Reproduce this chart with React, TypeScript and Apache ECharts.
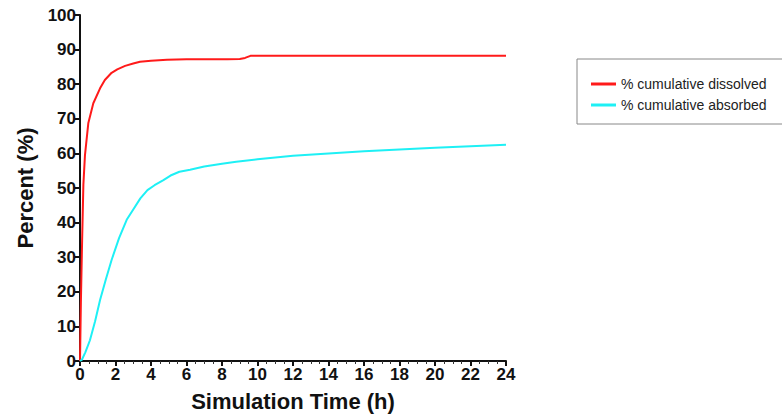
import React, { useEffect, useRef } from "react";
import * as echarts from "echarts";

const dissolvedTime = [0, 0.05, 0.12, 0.19, 0.28, 0.47, 0.75, 1.13, 1.4, 1.78, 2.1, 2.54, 3.0, 3.38, 4.0, 4.9, 6.0, 7.0, 8.3, 9.0, 9.3, 9.6, 12, 16, 20, 24];
const dissolvedPct = [0, 17, 35, 50.9, 59.5, 68.8, 74.5, 78.8, 81.2, 83.3, 84.3, 85.3, 86.0, 86.5, 86.8, 87.1, 87.2, 87.2, 87.2, 87.3, 87.6, 88.2, 88.2, 88.2, 88.2, 88.2];

const absorbedTime = [0, 0.1, 0.3, 0.56, 0.85, 1.13, 1.45, 1.78, 2.2, 2.63, 3.0, 3.4, 3.8, 4.2, 4.7, 5.1, 5.6, 6.2, 7.0, 8.0, 8.8, 10, 11, 12, 14, 16, 18, 20, 22, 24];
const absorbedPct = [0, 0.3, 2.5, 6, 11.5, 17.6, 23.5, 29.2, 35.5, 40.8, 43.8, 47, 49.4, 50.8, 52.3, 53.6, 54.7, 55.3, 56.2, 57.0, 57.6, 58.3, 58.8, 59.3, 60.0, 60.6, 61.1, 61.6, 62.1, 62.5];

const seriesNames = ["% cumulative dissolved", "% cumulative absorbed"];
const xTitle = "Simulation Time (h)";
const yTitle = "Percent (%)";

const FONT = "'Liberation Sans', Arial, sans-serif";

export default function App() {
  const ref = useRef<HTMLDivElement>(null);
  useEffect(() => {
    if (!ref.current) return;
    const chart = echarts.init(ref.current, null, { renderer: "svg" });
    const axisText = { color: "#111", fontWeight: "bold" as const, fontSize: 17, fontFamily: FONT };
    const nameText = { color: "#111", fontWeight: "bold" as const, fontSize: 22, fontFamily: FONT };
    chart.setOption({
      animation: false,
      backgroundColor: "#fff",
      grid: { left: 80, right: 276, top: 15, bottom: 54, containLabel: false, outerBoundsMode: "none" },
      legend: {
        orient: "vertical",
        left: 577,
        top: 59,
        padding: [18, 16, 12, 14],
        itemGap: 7,
        itemWidth: 25,
        itemHeight: 3,
        icon: "rect",
        borderColor: "#888",
        borderWidth: 1,
        textStyle: { color: "#222", fontSize: 14, fontFamily: FONT },
        data: seriesNames,
      },
      xAxis: {
        type: "value",
        min: 0,
        max: 24,
        interval: 2,
        name: xTitle,
        nameLocation: "middle",
        nameGap: 29,
        nameTextStyle: nameText,
        axisLine: { show: true, lineStyle: { color: "#111", width: 2 } },
        axisTick: { show: true, length: 5, lineStyle: { color: "#111", width: 2 } },
        minorTick: { show: true, splitNumber: 4, length: 3, lineStyle: { color: "#333", width: 1 } },
        axisLabel: { ...axisText, margin: 5 },
        splitLine: { show: false },
      },
      yAxis: {
        type: "value",
        min: 0,
        max: 100,
        interval: 10,
        name: yTitle,
        nameLocation: "middle",
        nameGap: 40,
        nameTextStyle: nameText,
        axisLine: { show: true, lineStyle: { color: "#111", width: 2 } },
        axisTick: { show: true, length: 5, lineStyle: { color: "#111", width: 2 } },
        axisLabel: { ...axisText, margin: 4 },
        splitLine: { show: false },
      },
      series: [
        {
          name: seriesNames[0],
          type: "line",
          showSymbol: false,
          symbol: "none",
          color: "#ff1a1a",
          lineStyle: { width: 2, color: "#ff1a1a" },
          data: dissolvedTime.map((t, i) => [t, dissolvedPct[i]]),
        },
        {
          name: seriesNames[1],
          type: "line",
          showSymbol: false,
          symbol: "none",
          color: "#1ef0f5",
          lineStyle: { width: 2, color: "#1ef0f5" },
          data: absorbedTime.map((t, i) => [t, absorbedPct[i]]),
        },
      ],
    });
    return () => chart.dispose();
  }, []);
  return (
    <div
      ref={ref}
      style={{ position: "fixed", left: 0, top: 0, width: 782, height: 415, background: "#fff" }}
    />
  );
}
